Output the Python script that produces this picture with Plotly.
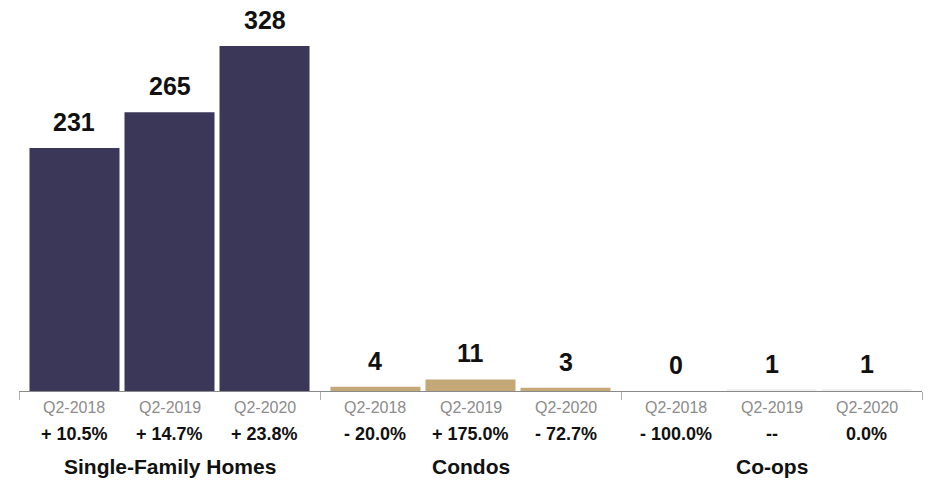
import plotly.graph_objects as go

groups = ["Single-Family Homes", "Condos", "Co-ops"]
periods = ["Q2-2018", "Q2-2019", "Q2-2020"]
# values[period][group]
values = {
    "Q2-2018": [231, 4, 0],
    "Q2-2019": [265, 11, 1],
    "Q2-2020": [328, 3, 1],
}
changes = {
    "Q2-2018": ["+ 10.5%", "- 20.0%", "- 100.0%"],
    "Q2-2019": ["+ 14.7%", "+ 175.0%", "--"],
    "Q2-2020": ["+ 23.8%", "- 72.7%", "0.0%"],
}
group_colors = ["#3a3759", "#c4a878", "#f0f0f0"]

FONT = "Liberation Sans, Arial, Helvetica, sans-serif"
bargap = 0.053
bargroupgap = 0.0526
slot = (1 - bargap) / len(periods)

fig = go.Figure()
for p in periods:
    fig.add_trace(go.Bar(
        x=groups, y=values[p], name=p,
        marker=dict(color=group_colors, line=dict(width=0)),
        showlegend=False, hoverinfo="x+y+name",
    ))

annotations = []
for gi, g in enumerate(groups):
    for pi, p in enumerate(periods):
        xc = gi + (pi - (len(periods) - 1) / 2) * slot
        v = values[p][gi]
        annotations.append(dict(x=xc, y=v, xref="x", yref="y", text=f"<b>{v}</b>",
                                showarrow=False, yanchor="middle", yshift=26,
                                font=dict(family=FONT, size=25, color="#111111")))
        annotations.append(dict(x=xc, y=407, xref="x", yref="paper", text=p,
                                showarrow=False, yanchor="middle",
                                font=dict(family=FONT, size=16, color="#8c8c8c")))
        annotations.append(dict(x=xc, y=434, xref="x", yref="paper", text=f"<b>{changes[p][gi]}</b>",
                                showarrow=False, yanchor="middle",
                                font=dict(family=FONT, size=18, color="#111111")))
    annotations.append(dict(x=gi, y=466, xref="x", yref="paper", text=f"<b>{g}</b>",
                            showarrow=False, yanchor="middle",
                            font=dict(family=FONT, size=21, color="#111111")))

# convert pixel rows to paper coordinates
H = 480
mt, mb = 46, 89
ph = H - mt - mb
for a in annotations:
    if a["yref"] == "paper":
        a["y"] = (H - mb - a["y"]) / ph

fig.update_layout(
    width=930, height=480,
    margin=dict(l=19, r=8, t=mt, b=mb, pad=0),
    paper_bgcolor="white", plot_bgcolor="white",
    barmode="group", bargap=bargap, bargroupgap=bargroupgap,
    annotations=annotations,
    xaxis=dict(showline=True, linecolor="#8a8a8a", linewidth=1,
               ticks="outside", tickson="boundaries", ticklen=8, tickcolor="#b0b0b0",
               showticklabels=False, showgrid=False, zeroline=False, fixedrange=True),
    yaxis=dict(range=[0, max(values["Q2-2020"])], visible=False, showgrid=False,
               zeroline=False, fixedrange=True),
)

fig.write_html("out.html", config={"displayModeBar": False},
               post_script="document.body.style.margin='0';")
